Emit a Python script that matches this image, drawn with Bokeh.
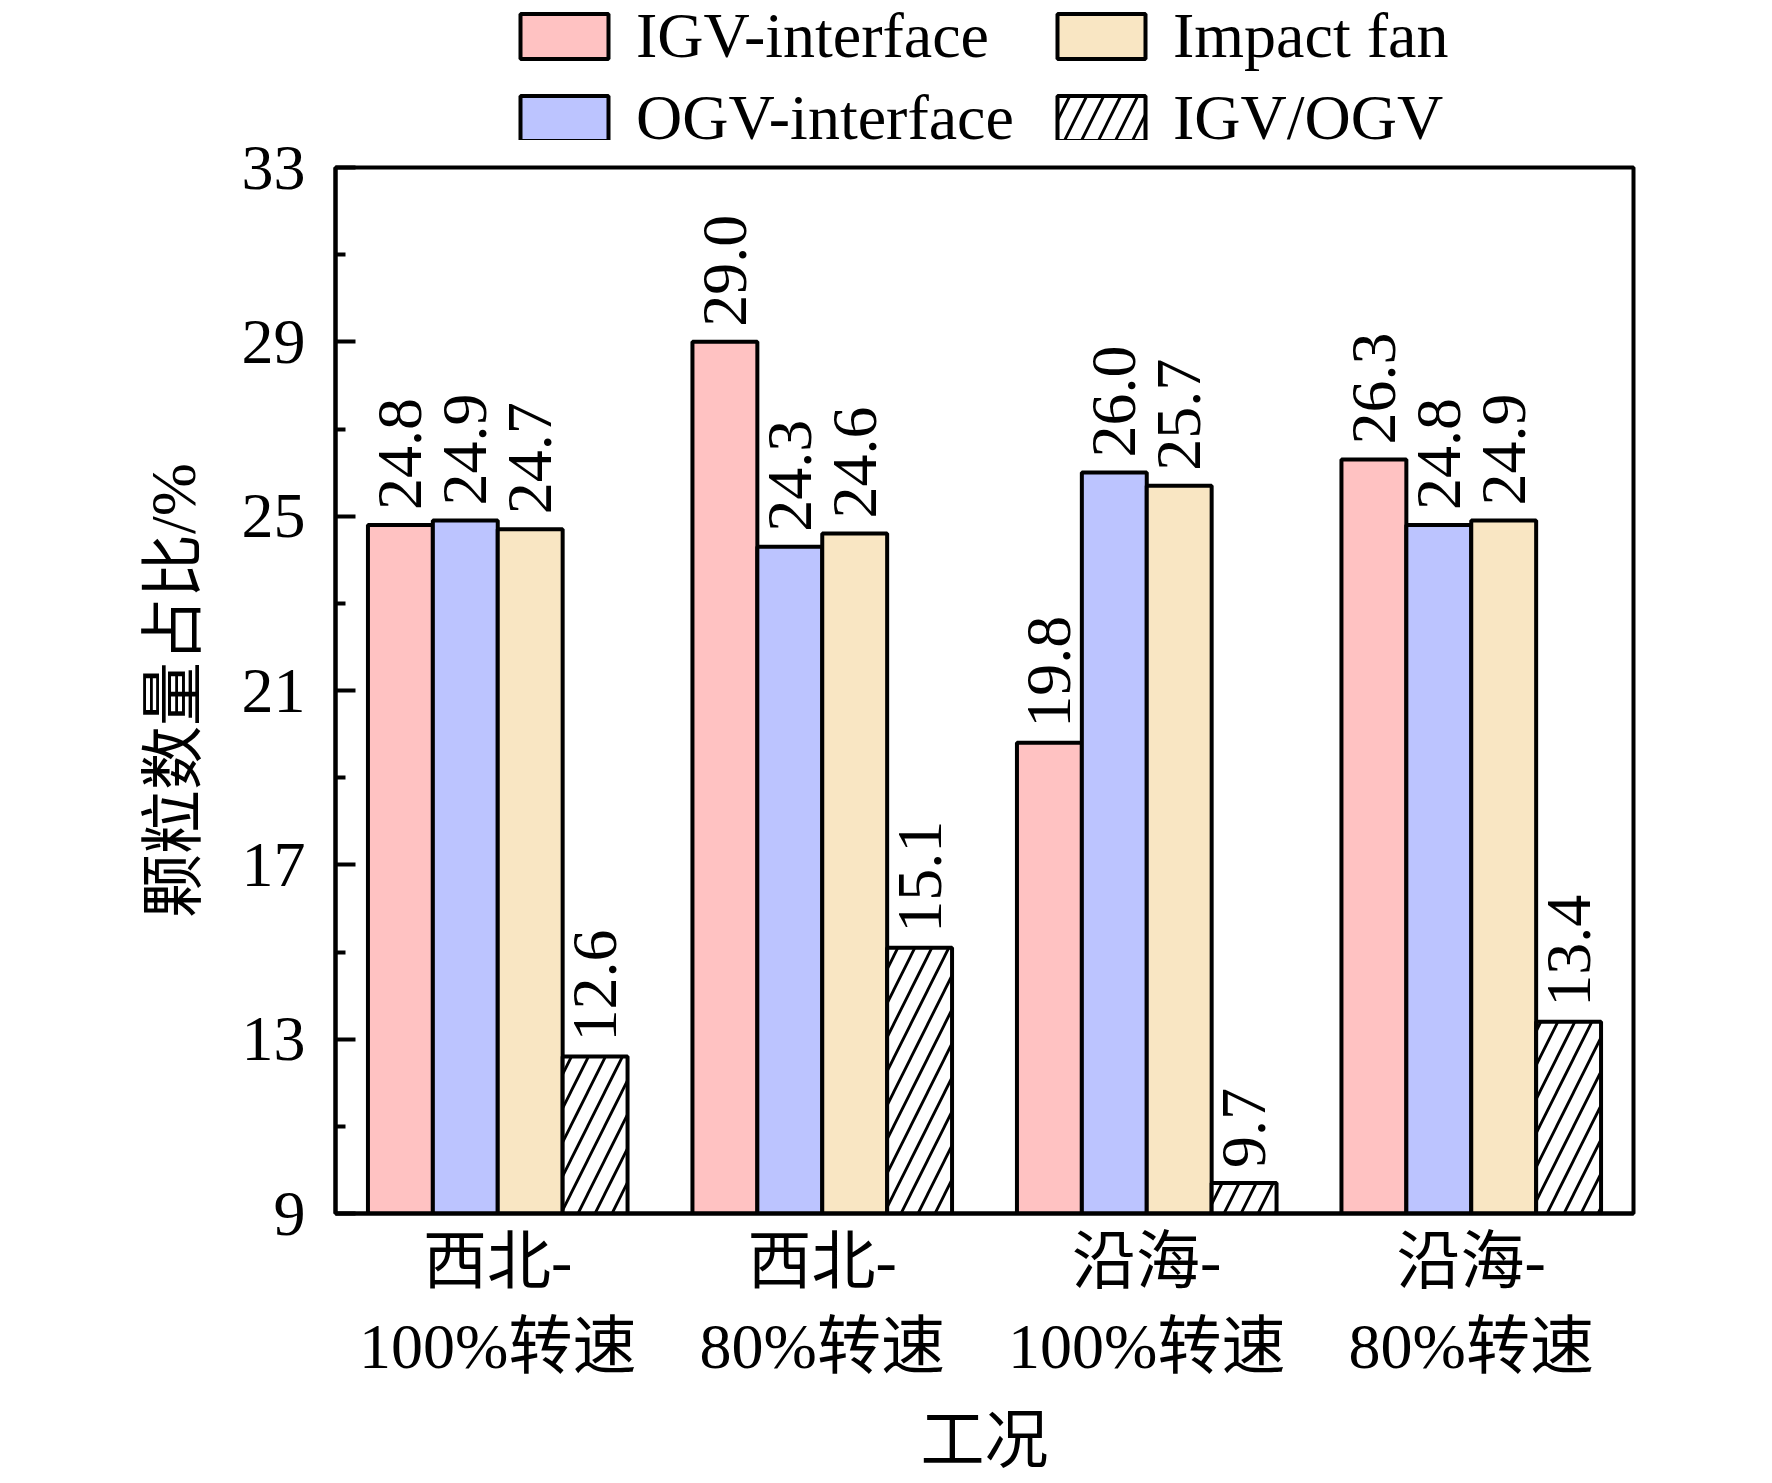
import numpy as np
from bokeh.plotting import figure
from bokeh.layouts import column
from bokeh.models import ColumnDataSource, FixedTicker, Legend, LegendItem, Range1d
from bokeh.transform import dodge
from bokeh.embed import file_html
from bokeh.resources import INLINE
from bokeh.core.properties import value

categories = ["西北-\n100%转速", "西北-\n80%转速", "沿海-\n100%转速", "沿海-\n80%转速"]
igv_interface = [24.8, 29.0, 19.8, 26.3]
ogv_interface = [24.9, 24.3, 26.0, 24.8]
impact_fan = [24.7, 24.6, 25.7, 24.9]
igv_ogv = [12.6, 15.1, 9.7, 13.4]
y_ticks = [9, 13, 17, 21, 25, 29, 33]

SERIF = "'Liberation Serif', 'Noto Sans CJK SC'"
NUM = "'Liberation Serif'"
FS = "64px"

xs = list(range(len(categories)))
source = ColumnDataSource(dict(
    x=xs,
    igv=igv_interface, ogv=ogv_interface, fan=impact_fan, ratio=igv_ogv,
    igv_t=[f"{v:.1f}" for v in igv_interface],
    ogv_t=[f"{v:.1f}" for v in ogv_interface],
    fan_t=[f"{v:.1f}" for v in impact_fan],
    ratio_t=[f"{v:.1f}" for v in igv_ogv],
))

ymin, ymax = y_ticks[0], y_ticks[-1]
W, H_TOP, H_MAIN = 1772, 140, 1343

# legend strip (its frame is aligned with the main plot's frame by the column layout)
top = figure(width=W, height=H_TOP, x_range=Range1d(0, 1), y_range=Range1d(0, 1),
             output_backend="svg", toolbar_location=None, x_axis_location=None,
             y_axis_location=None, min_border=0)
top.xgrid.visible = False
top.ygrid.visible = False
top.outline_line_color = None
# legend keys only: one undrawable (NaN) bar, so only the legend swatch shows
key_source = ColumnDataSource(dict(x=[np.nan], top=[np.nan], bottom=[np.nan]))

p = figure(width=W, height=H_MAIN, x_range=Range1d(-0.5, len(categories) - 0.5),
           y_range=Range1d(ymin, ymax), output_backend="svg", toolbar_location=None,
           min_border_left=335, min_border_right=139, min_border_top=27,
           min_border_bottom=270)

bw = 0.2
series = [
    ("igv", "igv_t", -0.3, "#FFC2C2", None, "IGV-interface"),
    ("ogv", "ogv_t", -0.1, "#BCC4FF", None, "OGV-interface"),
    ("fan", "fan_t", 0.1, "#F9E6C3", None, "Impact fan"),
    ("ratio", "ratio_t", 0.3, "white", "/", "IGV/OGV"),
]
legend_renderers = {}
for col, tcol, off, color, hatch, name in series:
    kw = dict(fill_color=color, line_color="black", line_width=4)
    if hatch:
        kw.update(hatch_pattern=hatch, hatch_color="black", hatch_weight=2.8, hatch_scale=34)
    p.vbar(x=dodge("x", off), top=col, bottom=ymin, width=bw, source=source, **kw)
    p.text(x=dodge("x", off), y=col, text=tcol, angle=np.pi / 2, text_align="left",
           text_baseline="middle", y_offset=-15, text_font=value(NUM),
           text_font_size=FS, text_color="black", source=source)
    legend_renderers[name] = top.vbar(x="x", top="top", bottom="bottom", width=bw,
                                      source=key_source, **kw)

p.xgrid.visible = False
p.ygrid.visible = False
p.outline_line_color = "black"
p.outline_line_width = 4
p.outline_line_alpha = 1

ya = p.yaxis[0]
ya.ticker = FixedTicker(ticks=y_ticks, minor_ticks=[t + 2 for t in y_ticks[:-1]])
ya.major_tick_in = 20
ya.major_tick_out = 0
ya.minor_tick_in = 10
ya.minor_tick_out = 0
ya.major_tick_line_width = 4
ya.minor_tick_line_width = 4
ya.axis_line_width = 4
ya.major_label_text_font = NUM
ya.major_label_text_font_size = FS
ya.major_label_text_color = "black"
ya.major_label_standoff = 30
ya.axis_label = "颗粒数量占比/%"
ya.axis_label_text_font = SERIF
ya.axis_label_text_font_size = FS
ya.axis_label_text_font_style = "normal"
ya.axis_label_text_color = "black"
ya.axis_label_standoff = 30

xa = p.xaxis[0]
xa.ticker = FixedTicker(ticks=xs)
xa.major_label_overrides = {i: c for i, c in zip(xs, categories)}
xa.major_tick_line_color = None
xa.minor_tick_line_color = None
xa.axis_line_width = 4
xa.major_label_text_font = SERIF
xa.major_label_text_font_size = FS
xa.major_label_text_color = "black"
xa.major_label_standoff = 6
xa.axis_label = "工况"
xa.axis_label_text_font = SERIF
xa.axis_label_text_font_size = FS
xa.axis_label_text_font_style = "normal"
xa.axis_label_text_color = "black"
xa.axis_label_standoff = 20

order = ["IGV-interface", "OGV-interface", "Impact fan", "IGV/OGV"]
legend = Legend(items=[LegendItem(label=n, renderers=[legend_renderers[n]]) for n in order],
                location=(174, -15), orientation="vertical", ncols=2,
                glyph_width=110, glyph_height=56, label_standoff=17, spacing=8,
                label_width=402,
                padding=0, margin=0, border_line_color=None, background_fill_alpha=0,
                label_text_font=NUM, label_text_font_size=FS, label_text_color="black")
top.add_layout(legend, "center")

layout = column(top, p, spacing=0)
open("out.html", "w").write(file_html(layout, INLINE))
